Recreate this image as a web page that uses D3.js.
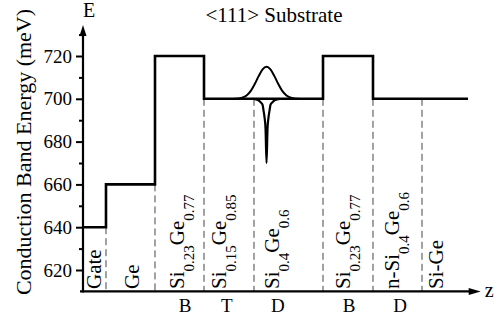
<!DOCTYPE html>
<html><head><meta charset="utf-8">
<script src="https://cdn.jsdelivr.net/npm/d3@7"></script>
<style>
body{margin:0;background:#fff;}
</style></head>
<body>
<svg id="c" width="498" height="318"></svg>
<script>
// ---- data ----
const yTicks = [620, 640, 660, 680, 700, 720];
const yMinorTicks = [630, 650, 670, 690, 710, 730];
// layer boundaries along z (arbitrary units) and band levels (meV)
const zBounds = [0, 5.85, 18.32, 30.79, 43.51, 61.07, 73.79, 86.26, 97.96];
const levels = [640, 660, 720, 700, 700, 720, 700, 700];
// bound-state wavefunction (gaussian-like bump)
const waveZ = [38.5, 39.7, 40.7, 41.7, 42.7, 43.7, 44.7, 45.7, 46.7, 47.7, 48.7, 49.7, 50.7, 51.7, 52.7, 53.7, 54.9];
const waveE = [700, 700.2, 700.7, 701.7, 703.7, 706.9, 710.6, 713.8, 715, 713.8, 710.6, 706.9, 703.7, 701.7, 700.7, 700.2, 700];
// delta-doping potential spike
const spikeZ = [43.3, 44.65, 45.17, 45.68, 45.94, 46.19, 46.45, 46.7, 46.95, 47.21, 47.46, 47.72, 48.23, 48.75, 50.1];
const spikeE = [700, 699.3, 698.4, 697.3, 694.5, 691.4, 685.8, 670, 685.8, 691.4, 694.5, 697.3, 698.4, 699.3, 700];
// layer labels
const layerLabels = [
  [["Gate", 0]],
  [["Ge", 0]],
  [["Si", 0], ["0.23", 1], ["Ge", 0], ["0.77", 1]],
  [["Si", 0], ["0.15", 1], ["Ge", 0], ["0.85", 1]],
  [["Si", 0], ["0.4", 1], ["Ge", 0], ["0.6", 1]],
  [["Si", 0], ["0.23", 1], ["Ge", 0], ["0.77", 1]],
  [["n-Si", 0], ["0.4", 1], ["Ge", 0], ["0.6", 1]],
  [["Si-Ge", 0]]
];
const layerLabelZ = [4.6, 14.3, 25.6, 36.5, 49.8, 67.9, 80.3, 91.7];
const roleLabels = ["B", "T", "D", "B", "D"];
const roleZ = [25.95, 36.6, 49.6, 67.7, 80.7];
const titleText = "<111> Substrate";
const yLabel = "Conduction Band Energy (meV)";

const FONT = '"Liberation Serif", Tinos, "Times New Roman", Times, "DejaVu Serif", serif';

// ---- scales ----
const svg = d3.select("#c");
const x = d3.scaleLinear().domain([0, 100]).range([83, 476]);
const y = d3.scaleLinear().domain([620, 720]).range([270, 56]);
const yBase = 610, yTop = 734.5, zEnd = 101.2;

// dashed separators
const sepG = svg.append("g");
for (let i = 1; i < zBounds.length - 1; i++) {
  const lo = Math.min(levels[i - 1], levels[i]);
  sepG.append("line")
    .attr("x1", x(zBounds[i])).attr("x2", x(zBounds[i]))
    .attr("y1", y(lo)).attr("y2", y(yBase))
    .attr("stroke", "#444").attr("stroke-width", 1)
    .attr("stroke-dasharray", "7,4");
}

// band profile
const prof = [];
levels.forEach((e, i) => { prof.push([zBounds[i], e]); prof.push([zBounds[i + 1], e]); });
const line = d3.line().x(d => x(d[0])).y(d => y(d[1]));
svg.append("path").attr("d", line(prof)).attr("fill", "none")
  .attr("stroke", "#000").attr("stroke-width", 2.6).attr("stroke-linejoin", "miter");

const curve = d3.line().x(d => x(d[0])).y(d => y(d[1])).curve(d3.curveMonotoneX);
svg.append("path").attr("d", curve(waveZ.map((z, i) => [z, waveE[i]])))
  .attr("fill", "none").attr("stroke", "#000").attr("stroke-width", 2);
svg.append("path").attr("d", curve(spikeZ.map((z, i) => [z, spikeE[i]])))
  .attr("fill", "none").attr("stroke", "#000").attr("stroke-width", 2.2);

// axes
const ax = svg.append("g").attr("transform", `translate(${x(0)},0)`);
ax.call(d3.axisLeft(y).tickValues(yTicks).tickSize(7).tickPadding(4).tickFormat(d3.format("d")))
  .call(g => g.select(".domain").remove());
ax.attr("font-family", null).attr("font-size", null);
ax.selectAll(".tick line").attr("stroke-width", 2);
ax.selectAll("text").attr("font-size", 19).style("font-family", FONT).attr("fill", "#000");
const axm = svg.append("g").attr("transform", `translate(${x(0)},0)`);
axm.call(d3.axisLeft(y).tickValues(yMinorTicks).tickSize(4).tickFormat(""))
  .call(g => g.select(".domain").remove());
axm.selectAll(".tick line").attr("stroke-width", 2);

svg.append("line").attr("x1", x(0)).attr("x2", x(0)).attr("y1", y(yBase) + 1).attr("y2", y(yTop) + 8)
  .attr("stroke", "#000").attr("stroke-width", 2.2);
svg.append("line").attr("x1", x(0) - 3).attr("x2", x(zEnd) - 8).attr("y1", y(yBase)).attr("y2", y(yBase))
  .attr("stroke", "#000").attr("stroke-width", 2.2);
svg.append("path").attr("d", `M${x(0)},${y(yTop)} L${x(0) - 3.5},${y(yTop) + 11} L${x(0) + 3.5},${y(yTop) + 11}Z`);
svg.append("path").attr("d", `M${x(zEnd)},${y(yBase)} L${x(zEnd) - 12},${y(yBase) - 3.5} L${x(zEnd) - 12},${y(yBase) + 3.5}Z`);

function txt(sel) { return sel.style("font-family", FONT).attr("fill", "#000"); }

txt(svg.append("text")).attr("x", x(0) + 6).attr("y", 17).attr("text-anchor", "middle").attr("font-size", 20).text("E");
txt(svg.append("text")).attr("x", x(zEnd) + 4).attr("y", 297).attr("font-size", 20).text("z");
txt(svg.append("text")).attr("x", 274).attr("y", 22).attr("text-anchor", "middle").attr("font-size", 21).text(titleText);
txt(svg.append("text")).attr("transform", "translate(31,152) rotate(-90)").attr("text-anchor", "middle")
  .attr("font-size", 22).text(yLabel);

// layer labels (rotated)
layerLabels.forEach((parts, i) => {
  const t = txt(svg.append("text")).attr("transform", `translate(${x(layerLabelZ[i])},289) rotate(-90)`)
    .attr("font-size", 21);
  let shift = 0;
  parts.forEach(([s, sub]) => {
    const target = sub ? 10 : 0;
    t.append("tspan").attr("dy", target - shift).attr("font-size", sub ? 15 : 21).text(s);
    shift = target;
  });
});
roleLabels.forEach((s, i) => {
  txt(svg.append("text")).attr("x", x(roleZ[i])).attr("y", 312).attr("text-anchor", "middle")
    .attr("font-size", 19).text(s);
});
</script>
</body></html>
